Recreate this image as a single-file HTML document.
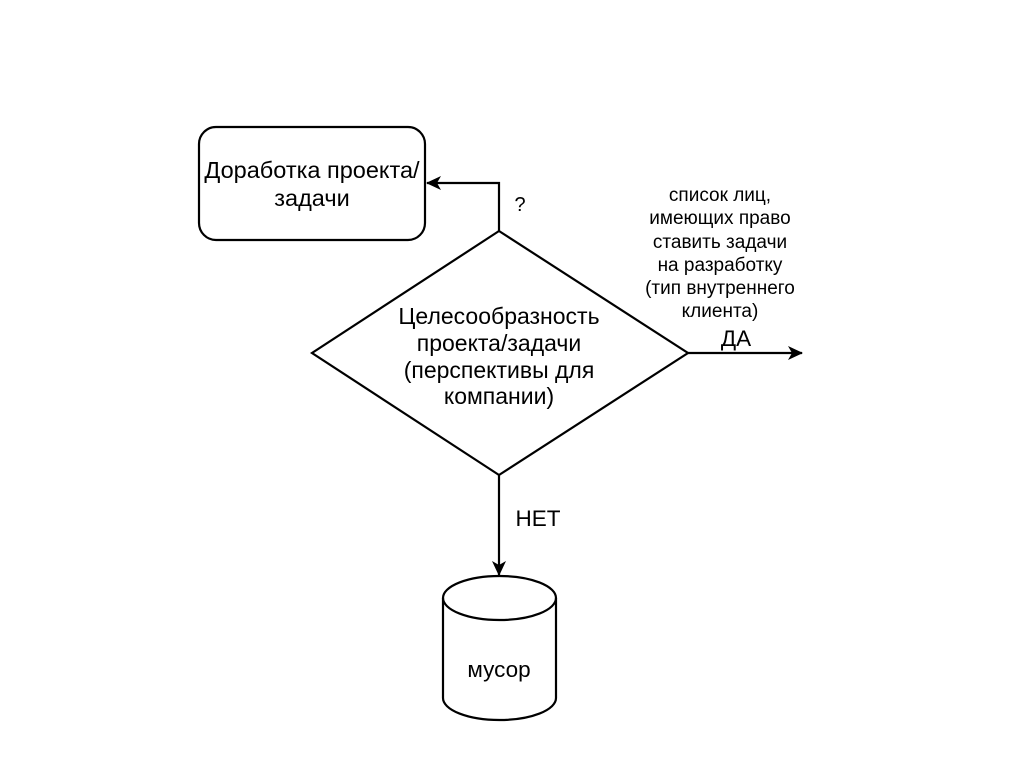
<!DOCTYPE html>
<html><head><meta charset="utf-8"><style>
html,body{margin:0;padding:0;background:#fff;}
svg{display:block;}
text{font-family:"Liberation Sans","DejaVu Sans",sans-serif;fill:#000;}
</style></head><body>
<svg width="1024" height="767" viewBox="0 0 1024 767" xmlns="http://www.w3.org/2000/svg">
<defs><marker id="a" markerWidth="16" markerHeight="14" refX="14" refY="7" orient="auto" markerUnits="userSpaceOnUse"><path d="M0,0 L15,7 L0,14 L4,7 Z" fill="#000"/></marker></defs>
<rect x="199" y="127" width="226" height="113" rx="17" fill="#fff" stroke="#000" stroke-width="2.2"/>
<text x="312" y="178" font-size="23.5" text-anchor="middle">Доработка проекта/</text>
<text x="312" y="206" font-size="23.5" text-anchor="middle">задачи</text>
<polygon points="499,231 688,353 499,475 312,353" fill="#fff" stroke="#000" stroke-width="2.2"/>
<text x="499" y="324" font-size="23" text-anchor="middle">Целесообразность</text>
<text x="499" y="351" font-size="23" text-anchor="middle">проекта/задачи</text>
<text x="499" y="378" font-size="23" text-anchor="middle">(перспективы для</text>
<text x="499" y="404" font-size="23" text-anchor="middle">компании)</text>
<polyline points="499,231 499,183 427,183" fill="none" stroke="#000" stroke-width="2.2" marker-end="url(#a)"/>
<text x="520" y="211" font-size="20" text-anchor="middle">?</text>
<line x1="688" y1="353" x2="802" y2="353" stroke="#000" stroke-width="2.2" marker-end="url(#a)"/>
<text x="736" y="346" font-size="22.5" text-anchor="middle">ДА</text>
<g font-size="19" text-anchor="middle">
<text x="720" y="201">список лиц,</text>
<text x="720" y="224">имеющих право</text>
<text x="720" y="248">ставить задачи</text>
<text x="720" y="271">на разработку</text>
<text x="720" y="294">(тип внутреннего</text>
<text x="720" y="317">клиента)</text>
</g>
<line x1="499" y1="475" x2="499" y2="575" stroke="#000" stroke-width="2.2" marker-end="url(#a)"/>
<text x="538" y="526" font-size="22.5" text-anchor="middle">НЕТ</text>
<path d="M443,598 A56.5,22 0 0 1 556,598 L556,698 A56.5,22 0 0 1 443,698 Z" fill="#fff" stroke="#000" stroke-width="2.2"/>
<path d="M443,598 A56.5,22 0 0 0 556,598" fill="none" stroke="#000" stroke-width="2.2"/>
<text x="499" y="677" font-size="22.5" text-anchor="middle">мусор</text>
</svg>
</body></html>
